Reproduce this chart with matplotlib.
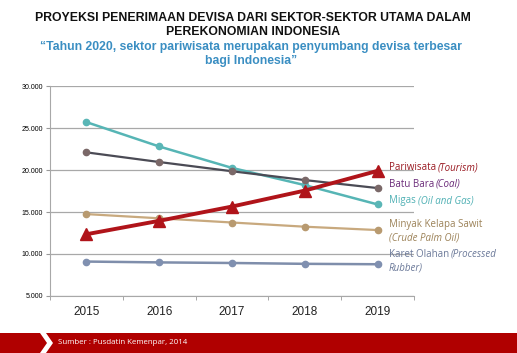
import matplotlib
matplotlib.use("Agg")
import matplotlib.pyplot as plt
from matplotlib.patches import Rectangle, Polygon

years = ["2015", "2016", "2017", "2018", "2019"]
pariwisata = [12350, 13950, 15650, 17550, 19900]
batu_bara = [22100, 20950, 19850, 18800, 17850]
migas = [25700, 22800, 20250, 18200, 15900]
sawit = [14750, 14250, 13750, 13250, 12850]
karet = [9100, 9000, 8930, 8830, 8780]
yticks = [5000, 10000, 15000, 20000, 25000, 30000]
ytick_labels = ["5.000", "10.000", "15.000", "20.000", "25.000", "30.000"]

W, H = 517, 353
fig = plt.figure(figsize=(W / 100, H / 100), dpi=100)
fig.patch.set_facecolor("white")

ax = fig.add_axes([50 / W, 1 - 296 / H, 364 / W, 210 / H])
x = list(range(len(years)))

ax.plot(x, karet, color="#7f8eab", lw=1.8, marker="o", ms=4.5, mfc="#8090b0", mec="#8090b0", zorder=3)
ax.plot(x, sawit, color="#c8a97e", lw=1.6, marker="o", ms=4.5, mfc="#b89a70", mec="#b89a70", zorder=3)
ax.plot(x, migas, color="#56b5b5", lw=1.8, marker="o", ms=4.5, mfc="#5ab6b6", mec="#5ab6b6", zorder=3)
ax.plot(x, batu_bara, color="#4b4b55", lw=1.6, marker="o", ms=4.5, mfc="#7a6868", mec="#7a6868", zorder=3)
ax.plot(x, pariwisata, color="#b0141a", lw=2.8, marker="^", ms=8, mfc="#b0141a", mec="#b0141a", zorder=4)

ax.set_xlim(-0.5, 4.5)
ax.set_ylim(5000, 30000)
ax.set_yticks(yticks)
ax.set_yticklabels(ytick_labels, fontsize=5, family="Liberation Sans")
ax.set_xticks(x)
ax.set_xticklabels(years, fontsize=8.5, family="Liberation Sans", color="#222222")
ax.set_xticks([i + 0.5 for i in range(-1, 5)], minor=True)
ax.tick_params(axis="x", which="major", length=0, pad=7)
ax.tick_params(axis="x", which="minor", length=3, color="#999999")
ax.tick_params(axis="y", length=3, color="#999999", pad=2)
ax.grid(axis="y", color="#a8a8a8", lw=0.9)
ax.set_axisbelow(True)
for s in ["top", "right"]:
    ax.spines[s].set_visible(False)
ax.spines["left"].set_color("#a8a8a8")
ax.spines["bottom"].set_color("#a8a8a8")

# Titles
tkw = dict(ha="center", va="center", fontsize=8.8, fontweight="bold", family="Liberation Sans")
fig.text(253 / W, 1 - 18 / H, "PROYEKSI PENERIMAAN DEVISA DARI SEKTOR-SEKTOR UTAMA DALAM",
         color="#111111", **tkw)
fig.text(253 / W, 1 - 32 / H, "PEREKONOMIAN INDONESIA", color="#111111", **tkw)
fig.text(251 / W, 1 - 47 / H, "\u201cTahun 2020, sektor pariwisata merupakan penyumbang devisa terbesar",
         color="#3a8ec2", **tkw)
fig.text(251 / W, 1 - 61 / H, "bagi Indonesia\u201d", color="#3a8ec2", **tkw)

# Right labels
fig.canvas.draw()
renderer = fig.canvas.get_renderer()
labels = [
    (170, "Pariwisata", "(Tourism)", "#9a1a22"),
    (187, "Batu Bara", "(Coal)", "#6a2a78"),
    (203, "Migas", "(Oil and Gas)", "#4fb0b4"),
    (227, "Minyak Kelapa Sawit", "", "#9c8258"),
    (240, "", "(Crude Palm Oil)", "#9c8258"),
    (257, "Karet Olahan", "(Processed", "#6a7898"),
    (271, "", "Rubber)", "#6a7898"),
]
x0 = 389
fs = 7.0
for yp, normal, ital, col in labels:
    xp = x0
    if normal:
        t = fig.text(xp / W, 1 - yp / H, normal, ha="left", va="baseline", fontsize=fs,
                     family="Open Sans", color=col)
        bb = t.get_window_extent(renderer)
        xp = bb.x1 + 1.8
    if ital:
        fig.text(xp / W, 1 - yp / H, ital, ha="left", va="baseline", fontsize=fs,
                 family="Open Sans", style="italic", color=col)

# Footer band
fig.patches.append(Rectangle((0, 0), 1, 20 / H, transform=fig.transFigure,
                             facecolor="#b00000", edgecolor="none"))
chev = [(40, 333), (46, 333), (53, 343), (46, 353), (40, 353), (47, 343)]
fig.patches.append(Polygon([(px / W, 1 - py / H) for px, py in chev], closed=True,
                           transform=fig.transFigure, facecolor="white", edgecolor="none"))
fig.text(58 / W, 1 - 343 / H, "Sumber : Pusdatin Kemenpar, 2014", ha="left", va="center",
         fontsize=5.7, family="Open Sans", color="white")

fig.savefig("out.png", dpi=100)
